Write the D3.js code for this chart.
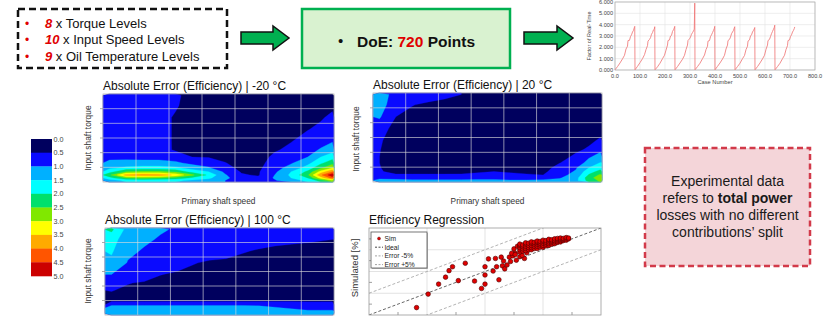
<!DOCTYPE html>
<html><head><meta charset="utf-8">
<script src="https://cdnjs.cloudflare.com/ajax/libs/d3/7.8.5/d3.min.js"></script>
<style>html,body{margin:0;padding:0;background:#fff;} svg{display:block;font-family:'Liberation Sans',Arial,sans-serif;}</style>
</head><body>
<svg id="chart" width="831" height="322"></svg>
<script>
// ---------------- DATA ----------------
const doeCounts = ["8", "10", "9"];
const doeLabels = [" x Torque Levels", " x Input Speed Levels", " x Oil Temperature Levels"];
const doeTotal = "720";
const noteLines = [["Experimental data"], ["refers to ", "total power"], ["losses with no different"], ["contributions’ split"]];

// real-time factor chart
const rtXTicks = [0, 100, 200, 300, 400, 500, 600, 700, 800];
const rtYTicks = [0, 1, 2, 3, 4, 5, 6];
const rtSegmentStarts = [0, 80, 160, 240, 320, 400, 480, 560, 640];
const rtCaseOffsets = [0, 10, 20, 30, 38, 44, 50, 52, 58, 62, 66, 70, 74, 77, 79];
const rtSeg1 = [0.02,0.30,0.62,0.98,1.30,1.85,2.10,2.60,2.62,2.95,3.10,3.35,3.50,3.72,3.85];
const rtSeg2 = [0.02,0.32,0.65,1.00,1.35,1.80,2.15,2.55,2.70,2.85,3.15,3.30,3.55,3.60,3.82];
const rtSeg3 = [0.02,0.28,0.60,1.00,1.30,1.75,2.20,2.60,2.65,3.00,3.05,3.40,3.55,3.70,3.85];
const rtSeg4 = [0.02,0.30,0.62,0.95,1.30,1.80,2.20,2.60,2.75,2.90,3.15,3.30,3.45,3.60,5.90];
const rtSeg5 = [0.02,0.30,0.60,1.00,1.32,1.80,2.10,2.55,2.60,2.95,3.10,3.30,3.50,3.65,3.85];
const rtSeg6 = [0.02,0.32,0.62,0.97,1.30,1.85,2.20,2.60,2.70,2.90,3.20,3.35,3.50,3.70,3.82];
const rtSeg7 = [0.02,0.30,0.60,1.00,1.28,1.80,2.10,2.55,2.65,3.00,3.10,3.35,3.50,3.62,3.75];
const rtSeg8 = [0.02,0.30,0.62,0.98,1.30,1.82,2.20,2.60,2.70,2.95,3.20,3.40,3.60,3.75,3.95];
const rtSeg9 = [0.02,0.30,0.60,1.00,1.30,1.80,2.15,2.60,2.65,2.95,3.10,3.35,3.50,3.65,3.80];
const rtSegments = [rtSeg1, rtSeg2, rtSeg3, rtSeg4, rtSeg5, rtSeg6, rtSeg7, rtSeg8, rtSeg9];

// error maps
const errorLevels = [0.0,0.5,1.0,1.5,2.0,2.5,3.0,3.5,4.0,4.5,5.0];
const errorColors = ["#00005e","#0a0aff","#00b0ff","#00ffff","#00e06c","#80e800","#ffff00","#ffaa00","#ff5500","#cc0000"];
const speedTicks = [0,1000,2000,3000,4000,5000,6000,7000];
const torqueTicks = [0,50,100,150,200,250,300];
const speedLevels = [200,700,1200,1700,2200,2700,3200,3700,4200,4700,5200,5700,6200,6600,6950];
const torqueLevels = [295,260,220,180,140,110,85,65,48,35,24,14,5];
const mapTitles = ["Absolute Error (Efficiency) | -20 °C", "Absolute Error (Efficiency) | 20 °C", "Absolute Error (Efficiency) | 100 °C"];

const errMinus20 = [
 [0.75,0.75,0.75,0.72,0.60,0.30,0.20,0.20,0.20,0.20,0.20,0.20,0.20,0.25,0.30],
 [0.75,0.75,0.75,0.70,0.55,0.30,0.20,0.20,0.20,0.20,0.20,0.20,0.25,0.30,0.40],
 [0.75,0.75,0.72,0.65,0.45,0.28,0.20,0.20,0.20,0.20,0.20,0.25,0.30,0.45,0.60],
 [0.75,0.75,0.72,0.65,0.45,0.28,0.20,0.20,0.20,0.20,0.25,0.30,0.48,0.60,0.75],
 [0.75,0.75,0.72,0.65,0.45,0.28,0.20,0.20,0.20,0.25,0.30,0.48,0.65,0.80,0.95],
 [0.80,0.78,0.74,0.66,0.45,0.30,0.25,0.22,0.22,0.25,0.45,0.60,0.80,1.05,1.30],
 [0.90,0.88,0.86,0.85,0.72,0.50,0.48,0.35,0.30,0.30,0.60,0.75,1.00,1.50,1.80],
 [1.10,1.15,1.15,1.15,1.10,0.85,0.75,0.52,0.32,0.35,0.70,0.95,1.35,1.90,2.30],
 [1.40,1.60,1.70,1.70,1.60,1.30,1.05,0.70,0.35,0.40,0.80,1.20,1.70,2.40,3.00],
 [1.80,2.50,2.60,2.60,2.40,1.80,1.50,0.90,0.45,0.45,0.90,1.50,2.10,3.20,4.00],
 [2.40,3.70,3.90,3.80,3.40,2.60,1.90,1.05,0.55,0.45,1.00,1.60,2.40,3.90,4.90],
 [1.80,2.50,2.60,2.50,2.30,1.90,1.60,1.10,0.75,0.60,1.05,1.50,2.00,3.20,4.20],
 [1.30,1.60,1.60,1.60,1.60,1.40,1.30,1.00,0.95,0.80,0.95,1.30,1.60,2.20,2.80]
];
const err20 = [
 [1.20,0.85,0.80,0.75,0.65,0.50,0.35,0.25,0.20,0.20,0.20,0.20,0.20,0.20,0.20],
 [1.15,0.80,0.52,0.40,0.30,0.25,0.20,0.20,0.20,0.20,0.20,0.20,0.20,0.20,0.25],
 [1.05,0.50,0.35,0.30,0.25,0.20,0.20,0.20,0.20,0.20,0.20,0.20,0.20,0.25,0.30],
 [0.75,0.30,0.25,0.20,0.20,0.20,0.20,0.20,0.20,0.20,0.20,0.20,0.25,0.30,0.35],
 [0.55,0.30,0.20,0.20,0.20,0.20,0.20,0.20,0.20,0.20,0.20,0.25,0.30,0.42,0.55],
 [0.52,0.25,0.20,0.20,0.20,0.20,0.20,0.20,0.20,0.20,0.20,0.30,0.42,0.55,0.90],
 [0.50,0.25,0.20,0.20,0.20,0.20,0.20,0.20,0.20,0.20,0.25,0.35,0.58,0.95,1.15],
 [0.50,0.25,0.22,0.20,0.20,0.20,0.20,0.20,0.20,0.20,0.30,0.48,0.75,1.15,1.52],
 [0.52,0.28,0.25,0.25,0.25,0.25,0.30,0.35,0.30,0.28,0.33,0.65,0.95,1.50,1.85],
 [0.55,0.35,0.35,0.35,0.35,0.38,0.45,0.50,0.45,0.38,0.40,0.75,1.05,1.80,2.15],
 [0.60,0.55,0.55,0.55,0.55,0.55,0.60,0.65,0.60,0.55,0.50,0.85,1.15,2.05,2.60],
 [0.85,0.80,0.80,0.80,0.80,0.80,0.85,0.85,0.80,0.80,0.80,0.95,1.30,2.30,2.80],
 [1.20,1.15,1.10,1.10,1.10,1.10,1.10,1.10,1.05,1.05,1.10,1.15,1.35,2.20,2.60]
];
const err100 = [
 [2.10,1.30,1.15,1.05,0.95,0.90,0.85,0.80,0.75,0.70,0.65,0.62,0.60,0.60,0.60],
 [1.70,1.20,1.08,0.95,0.85,0.80,0.75,0.72,0.70,0.66,0.62,0.58,0.55,0.52,0.50],
 [1.55,1.10,0.95,0.85,0.78,0.72,0.68,0.65,0.53,0.46,0.40,0.38,0.37,0.36,0.35],
 [1.40,0.97,0.85,0.75,0.65,0.52,0.45,0.42,0.38,0.35,0.30,0.30,0.30,0.30,0.30],
 [1.00,0.85,0.72,0.51,0.45,0.40,0.35,0.32,0.30,0.28,0.25,0.25,0.25,0.25,0.25],
 [0.85,0.52,0.45,0.40,0.35,0.30,0.28,0.25,0.22,0.20,0.20,0.20,0.20,0.20,0.20],
 [0.52,0.42,0.35,0.30,0.27,0.25,0.22,0.20,0.20,0.20,0.20,0.20,0.20,0.20,0.20],
 [0.42,0.35,0.30,0.27,0.25,0.22,0.20,0.20,0.20,0.20,0.20,0.20,0.20,0.20,0.20],
 [0.45,0.45,0.45,0.45,0.45,0.45,0.45,0.45,0.45,0.45,0.45,0.45,0.45,0.45,0.45],
 [0.95,0.95,0.95,0.95,0.95,0.95,0.95,0.95,0.95,0.93,0.85,0.80,0.70,0.70,0.70],
 [1.25,1.25,1.25,1.25,1.25,1.25,1.25,1.25,1.22,1.15,1.05,0.95,0.85,0.85,0.85],
 [1.30,1.30,1.30,1.30,1.30,1.30,1.30,1.30,1.30,1.25,1.20,1.15,1.05,1.05,1.05],
 [1.25,1.25,1.25,1.25,1.25,1.25,1.25,1.25,1.25,1.20,1.20,1.20,1.15,1.15,1.15]
];

// efficiency regression (measured vs simulated, %)
const regTicks = [80, 85, 90, 95, 100];
const regMinorTicks = [82.5, 87.5, 92.5, 97.5];
const refLineNames = ["Ideal", "Error -5%", "Error +5%"];
const refLineOffsets = [0, -5, 5];
const measuredEff = [
 84.1,85.1,86.0,86.6,86.9,87.2,87.7,88.3,89.1,89.7,90.0,90.0,90.0,90.3,90.7,90.9,91.2,91.0,91.4,91.5,91.6,91.7,91.9,92.1,92.2,92.4,92.6,92.7,93.0,93.1,93.4,
 92.5,92.3,93.2,92.8,92.6,93.6,
 93.0,93.0,93.0,93.0,93.0, 93.25,93.25,93.25,93.25, 93.5,93.5,93.5,93.5,93.5, 93.75,93.75,93.75,93.75,
 94.0,94.0,94.0,94.0,94.0, 94.25,94.25,94.25,94.25, 94.5,94.5,94.5,94.5,94.5, 94.75,94.75,94.75,94.75,
 95.0,95.0,95.0,95.0,95.0, 95.25,95.25,95.25,95.25, 95.5,95.5,95.5,95.5,95.5, 95.75,95.75,95.75,95.75,
 96.0,96.0,96.0,96.0, 96.25,96.25,96.25,96.25, 96.5,96.5,96.5,96.5, 96.75,96.75,96.75, 97.0,97.0,97.0, 97.2,97.2
];
const simulatedEff = [
 81.7,84.8,87.1,88.7,90.2,91.1,87.9,91.9,87.8,86.1,89.2,87.1,91.1,92.9,90.1,93.0,88.1,91.1,93.3,91.3,92.4,90.6,91.5,93.3,92.3,93.6,94.2,92.6,93.4,94.6,93.0,
 95.2,94.2,93.7,95.8,93.9,94.3,
 94.5,95.0,95.5,96.0,96.3, 94.7,95.2,95.7,96.1, 94.8,95.3,95.8,96.3,96.6, 95.0,95.5,96.0,96.5,
 95.0,95.5,96.0,96.5,96.8, 95.3,95.8,96.3,96.7, 95.3,95.8,96.3,96.7,97.0, 95.6,96.1,96.5,96.9,
 95.6,96.0,96.5,96.9,97.2, 95.9,96.3,96.7,97.1, 96.0,96.4,96.8,97.2,97.4, 96.3,96.7,97.0,97.3,
 96.4,96.8,97.1,97.5, 96.7,97.0,97.3,97.6, 96.8,97.1,97.4,97.7, 97.1,97.4,97.6, 97.2,97.5,97.8, 97.5,97.7
];

// ---------------- DRAW ----------------
const svg = d3.select("#chart");

// --- DoE factor box ---
svg.append("rect").attr("x", 18).attr("y", 9).attr("width", 209).attr("height", 59)
  .attr("fill", "none").attr("stroke", "#111").attr("stroke-width", 2.5).attr("stroke-dasharray", "7,4");
doeCounts.forEach((c, i) => {
  const y = 27.5 + i * 16.8;
  svg.append("text").attr("x", 25).attr("y", y).attr("fill", "#e00000").style("font-size", "12px").text("•");
  const t = svg.append("text").attr("x", 45).attr("y", y).style("font-size", "13px").attr("fill", "#111");
  t.append("tspan").attr("fill", "#e00000").attr("font-weight", "bold").attr("font-style", "italic").text(c);
  t.append("tspan").text(doeLabels[i]);
});

// arrows
function arrow(x0, x1) {
  const xm = x1 - 16;
  svg.append("path")
    .attr("d", `M${x0},32 L${xm},32 L${xm},26 L${x1},38 L${xm},50 L${xm},44 L${x0},44 Z`)
    .attr("fill", "#00b050").attr("stroke", "#111").attr("stroke-width", 1.5).attr("stroke-linejoin", "miter");
}
arrow(241, 289);
arrow(524, 573);

// DoE box
svg.append("rect").attr("x", 302).attr("y", 9).attr("width", 208).attr("height", 59)
  .attr("fill", "#d9f2d0").attr("stroke", "#00b050").attr("stroke-width", 2.5);
svg.append("text").attr("x", 338).attr("y", 46).style("font-size", "15px").attr("fill", "#111").text("•");
const doeT = svg.append("text").attr("x", 357).attr("y", 46.5).style("font-size", "15.5px").attr("font-weight", "bold").attr("fill", "#111");
doeT.append("tspan").text("DoE: ");
doeT.append("tspan").attr("fill", "#e00000").text(doeTotal);
doeT.append("tspan").text(" Points");

// --- real-time factor chart ---
const rtX = d3.scaleLinear().domain([0, 800]).range([615, 815]);
const rtY = d3.scaleLinear().domain([0, 6]).range([70, 2]);
const rt = svg.append("g");
rt.append("rect").attr("x", 615).attr("y", 2).attr("width", 200).attr("height", 68).attr("fill", "#fff");
rt.selectAll("line.gx").data(rtXTicks).join("line")
  .attr("x1", d => rtX(d)).attr("x2", d => rtX(d)).attr("y1", 2).attr("y2", 70).attr("stroke", "#e2e2e2").attr("stroke-width", 0.6);
rt.selectAll("line.gy").data(rtYTicks).join("line")
  .attr("x1", 615).attr("x2", 815).attr("y1", d => rtY(d)).attr("y2", d => rtY(d)).attr("stroke", "#e2e2e2").attr("stroke-width", 0.6);
rt.append("rect").attr("x", 615).attr("y", 2).attr("width", 200).attr("height", 68).attr("fill", "none").attr("stroke", "#aaa").attr("stroke-width", 0.7);
const rtPts = [];
rtSegments.forEach((seg, k) => seg.forEach((v, i) => rtPts.push([rtSegmentStarts[k] + rtCaseOffsets[i], v])));
rt.append("path").attr("d", d3.line().x(d => rtX(d[0])).y(d => rtY(d[1]))(rtPts))
  .attr("fill", "none").attr("stroke", "#f07878").attr("stroke-width", 0.85);
rt.selectAll("text.xl").data(rtXTicks).join("text")
  .attr("x", d => rtX(d)).attr("y", 77.5).attr("text-anchor", "middle").style("font-size", "5.6px").attr("fill", "#444").text(d3.format(".1f"));
rt.selectAll("text.yl").data(rtYTicks).join("text")
  .attr("x", 613).attr("y", d => rtY(d) + 2).attr("text-anchor", "end").style("font-size", "5.6px").attr("fill", "#444").text(d3.format(".3f"));
rt.append("text").attr("x", 715).attr("y", 84).attr("text-anchor", "middle").style("font-size", "5.7px").attr("fill", "#444").text("Case Number");
rt.append("text").attr("transform", "translate(591,36) rotate(-90)").attr("text-anchor", "middle").style("font-size", "5.6px").attr("fill", "#444").text("Factor of Real-Time");

// --- colour legend ---
const lgY = d3.scaleLinear().domain([0, 5]).range([139, 276]);
const lg = svg.append("g");
lg.selectAll("rect").data(errorColors).join("rect")
  .attr("x", 31).attr("width", 21)
  .attr("y", (d, i) => lgY(errorLevels[i])).attr("height", (d, i) => lgY(errorLevels[i + 1]) - lgY(errorLevels[i]) + 0.3)
  .attr("fill", d => d);
lg.selectAll("text").data(errorLevels).join("text")
  .attr("x", 53.5).attr("y", d => lgY(d) + 2.5).style("font-size", "7.2px").attr("fill", "#444").text(d3.format(".1f"));

// --- error maps ---
function heatmap(grid, x0, x1, y0, y1, title, ylx, yly, xlabel) {
  const g = svg.append("g");
  const sx = d3.scaleLinear().domain([0, 7000]).range([x0, x1]);
  const sy = d3.scaleLinear().domain([0, 300]).range([y1, y0]);
  const nx = speedLevels.length, ny = torqueLevels.length;
  const gx = d3.scaleLinear().domain([0, ...d3.range(nx).map(i => i + 0.5), nx]).range([0, ...speedLevels, 7000]);
  const gy = d3.scaleLinear().domain([0, ...d3.range(ny).map(i => i + 0.5), ny]).range([300, ...torqueLevels, 0]);
  const proj = d3.geoTransform({ point: function (x, y) { this.stream.point(sx(gx(x)), sy(gy(y))); } });
  const path = d3.geoPath(proj);
  const cs = d3.contours().size([nx, ny]).thresholds(errorLevels.slice(0, -1))(grid.flat());
  g.selectAll("path.c").data(cs).join("path").attr("d", path)
    .attr("fill", (d, i) => errorColors[i]).attr("stroke", (d, i) => errorColors[i]).attr("stroke-width", 0.3);
  g.selectAll("line.vx").data(speedTicks.slice(1, -1)).join("line")
    .attr("x1", d => sx(d)).attr("x2", d => sx(d)).attr("y1", y0).attr("y2", y1)
    .attr("stroke", "#dcdcdc").attr("stroke-opacity", 0.8).attr("stroke-width", 0.8);
  g.selectAll("line.hy").data(torqueTicks.slice(1, -1)).join("line")
    .attr("x1", x0).attr("x2", x1).attr("y1", d => sy(d)).attr("y2", d => sy(d))
    .attr("stroke", "#dcdcdc").attr("stroke-opacity", 0.8).attr("stroke-width", 0.8);
  g.selectAll("line.tk").data(torqueTicks.slice(1, -1)).join("line")
    .attr("x1", x0 - 3).attr("x2", x0).attr("y1", d => sy(d)).attr("y2", d => sy(d)).attr("stroke", "#888").attr("stroke-width", 0.7);
  g.append("rect").attr("x", x0).attr("y", y0).attr("width", x1 - x0).attr("height", y1 - y0)
    .attr("fill", "none").attr("stroke", "#aaa").attr("stroke-width", 0.7);
  g.append("text").attr("x", x0).attr("y", y0 - 4).style("font-size", "12px").attr("fill", "#111").text(title);
  g.append("text").attr("transform", `translate(${ylx},${yly}) rotate(-90)`).attr("text-anchor", "middle")
    .style("font-size", "8.4px").attr("fill", "#333").text("Input shaft torque");
  if (xlabel) g.append("text").attr("x", (x0 + x1) / 2).attr("y", 204).attr("text-anchor", "middle")
    .style("font-size", "8.3px").attr("fill", "#333").text("Primary shaft speed");
}
heatmap(errMinus20, 103, 334, 94, 182, mapTitles[0], 91, 138, true);
heatmap(err20, 373, 602, 93, 182, mapTitles[1], 359, 139, true);
heatmap(err100, 105, 334, 228, 315, mapTitles[2], 91, 271, false);

// --- efficiency regression ---
const rx = d3.scaleLinear().domain([80, 100]).range([369, 601]);
const ry = d3.scaleLinear().domain([80, 100]).range([315, 228]);
const rg = svg.append("g");
rg.append("rect").attr("x", 369).attr("y", 228).attr("width", 232).attr("height", 87).attr("fill", "#fff");
rg.selectAll("line.gx").data(regTicks.slice(1, -1)).join("line")
  .attr("x1", d => rx(d)).attr("x2", d => rx(d)).attr("y1", 228).attr("y2", 315).attr("stroke", "#dcdcdc").attr("stroke-width", 0.8);
rg.selectAll("line.gy").data(regTicks.slice(1, -1)).join("line")
  .attr("x1", 369).attr("x2", 601).attr("y1", d => ry(d)).attr("y2", d => ry(d)).attr("stroke", "#dcdcdc").attr("stroke-width", 0.8);
rg.selectAll("line.mx").data(regMinorTicks).join("line")
  .attr("x1", d => rx(d)).attr("x2", d => rx(d)).attr("y1", 315).attr("y2", 312).attr("stroke", "#777").attr("stroke-width", 0.7);
rg.selectAll("line.my").data(regMinorTicks).join("line")
  .attr("x1", 369).attr("x2", 372).attr("y1", d => ry(d)).attr("y2", d => ry(d)).attr("stroke", "#777").attr("stroke-width", 0.7);
rg.append("defs").append("clipPath").attr("id", "regclip").append("rect").attr("x", 369).attr("y", 228).attr("width", 232).attr("height", 87);
const refG = rg.append("g").attr("clip-path", "url(#regclip)");
refLineOffsets.forEach((o, i) => {
  const pts = [[80, 80 + o], [100, 100 + o]];
  refG.append("path").attr("d", d3.line().x(d => rx(d[0])).y(d => ry(d[1]))(pts))
    .attr("fill", "none").attr("stroke", i === 0 ? "#555" : "#aaa").attr("stroke-width", 0.9).attr("stroke-dasharray", "3,2");
});
const scatterPts = measuredEff.map((m, i) => [m, simulatedEff[i]]);
refG.selectAll("circle").data(scatterPts).join("circle")
  .attr("cx", d => rx(d[0])).attr("cy", d => ry(d[1])).attr("r", 2.3)
  .attr("fill", "#e00000").attr("stroke", "#4a0000").attr("stroke-width", 0.6);
rg.append("rect").attr("x", 369).attr("y", 228).attr("width", 232).attr("height", 87).attr("fill", "none").attr("stroke", "#999").attr("stroke-width", 0.8);
rg.append("text").attr("x", 369).attr("y", 224).style("font-size", "12px").attr("fill", "#111").text("Efficiency Regression");
rg.append("text").attr("transform", "translate(358,268) rotate(-90)").attr("text-anchor", "middle")
  .style("font-size", "9.5px").attr("fill", "#333").text("Simulated [%]");
// legend
rg.append("rect").attr("x", 372).attr("y", 233).attr("width", 56).attr("height", 36).attr("fill", "#bbb");
rg.append("rect").attr("x", 371).attr("y", 232).attr("width", 56).attr("height", 36).attr("fill", "#fff").attr("stroke", "#555").attr("stroke-width", 0.8);
const legNames = ["Sim", ...refLineNames];
legNames.forEach((n, i) => {
  const y = 238.5 + i * 8.7;
  if (i === 0) {
    rg.append("circle").attr("cx", 379).attr("cy", y).attr("r", 1.5).attr("fill", "#e00000").attr("stroke", "#4a0000").attr("stroke-width", 0.4);
  } else {
    rg.append("line").attr("x1", 375).attr("x2", 383).attr("y1", y).attr("y2", y)
      .attr("stroke", i === 1 ? "#333" : "#999").attr("stroke-width", 0.9).attr("stroke-dasharray", "2,1.5");
  }
  rg.append("text").attr("x", 384.5).attr("y", y + 2.3).style("font-size", "6.7px").attr("fill", "#222").text(n);
});

// --- note box ---
svg.append("rect").attr("x", 645).attr("y", 148).attr("width", 165).attr("height", 118)
  .attr("fill", "#f4d5d9").attr("stroke", "#d23a4a").attr("stroke-width", 2.5).attr("stroke-dasharray", "6,3.5");
noteLines.forEach((parts, i) => {
  const t = svg.append("text").attr("x", 727.5).attr("y", 186 + i * 17).attr("text-anchor", "middle")
    .style("font-size", "14px").attr("fill", "#1a1a1a");
  parts.forEach((p, j) => t.append("tspan").attr("font-weight", j === 1 ? "bold" : "normal").text(p));
});
</script>
</body></html>
